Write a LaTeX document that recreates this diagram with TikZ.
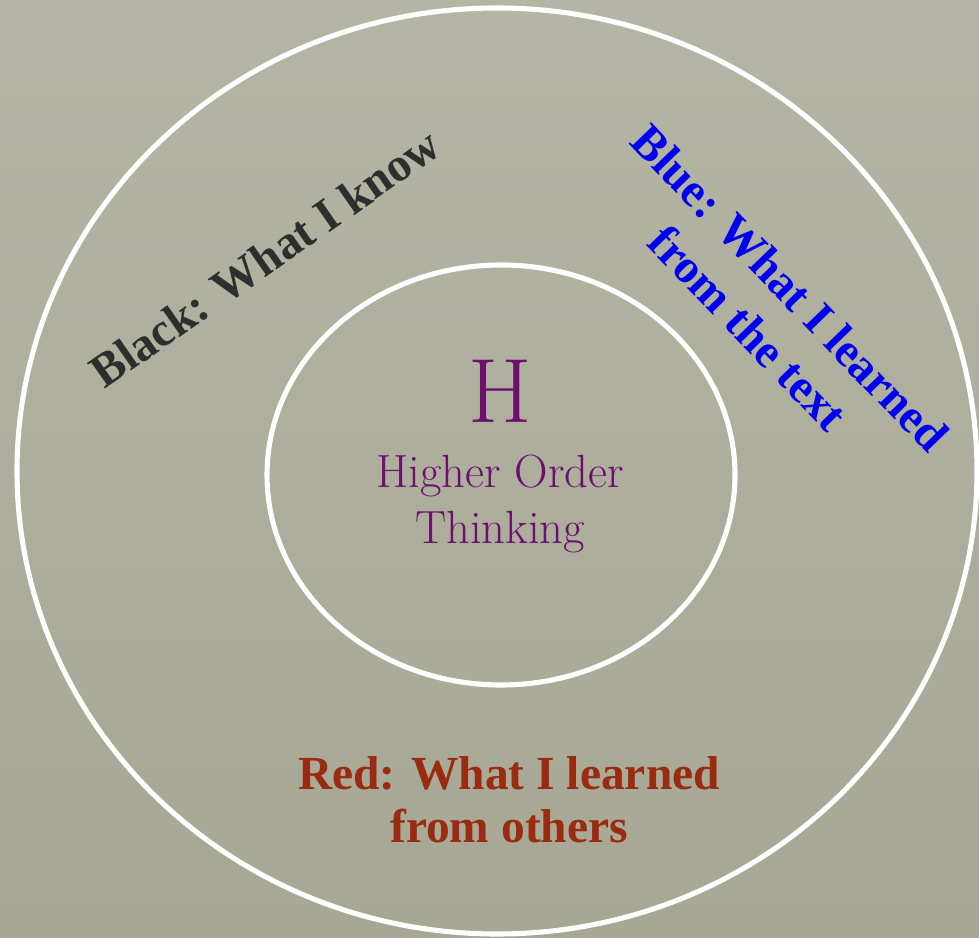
\documentclass[tikz,border=0pt]{standalone}
\usepackage{fontspec}
\usepackage{tikz}
\usetikzlibrary{shapes.geometric}
\newfontfamily\labelfont{Liberation Serif}
\definecolor{slate}{HTML}{B5B5A5}
\definecolor{slatedark}{HTML}{A7A795}
\definecolor{ringc}{HTML}{FFFFFF}
\definecolor{cpurple}{HTML}{6C0F6F}
\definecolor{cblack}{HTML}{2E2E2E}
\definecolor{cblue}{HTML}{0000F0}
\definecolor{cred}{HTML}{9A2A10}
\tikzset{
  ring/.style={draw=ringc, line width=2.9pt, ellipse, inner sep=0pt},
  lbl/.style={font=\labelfont\fontsize{27}{30}\selectfont\bfseries, align=center, inner sep=0pt},
  core/.style={text=cpurple, align=center, inner sep=0pt},
}
\begin{document}
\begin{tikzpicture}
\useasboundingbox (0,0) rectangle (19.58,18.74);
\shade[top color=slate, bottom color=slatedark] (0,0) rectangle (19.58,18.74);
% rings
\node[ring, minimum width=19.2cm, minimum height=18.52cm] (outer) at (9.94,9.32) {};
\node[ring, minimum width=9.36cm, minimum height=8.4cm] (inner) at (10.02,9.24) {};
% centre
\node[core, font=\fontsize{52}{52}\selectfont] (hcore) at (10.0,10.92) {H};
\node[core, font=\fontsize{26.5}{32}\selectfont] (hot) at (10.0,8.66) {Higher Order\\Thinking};
% three colours
\node[lbl, text=cblack, rotate=35] (black) at (5.3,13.58) {Black: What I know};
\node[lbl, text=cblue, rotate=-46, font=\labelfont\fontsize{27}{33}\selectfont\bfseries] (blue) at (15.38,12.58) {Blue: What I learned\\from the text};
\node[lbl, text=cred] (red) at (10.18,2.74) {Red: What I learned\\from others};
\end{tikzpicture}
\end{document}
